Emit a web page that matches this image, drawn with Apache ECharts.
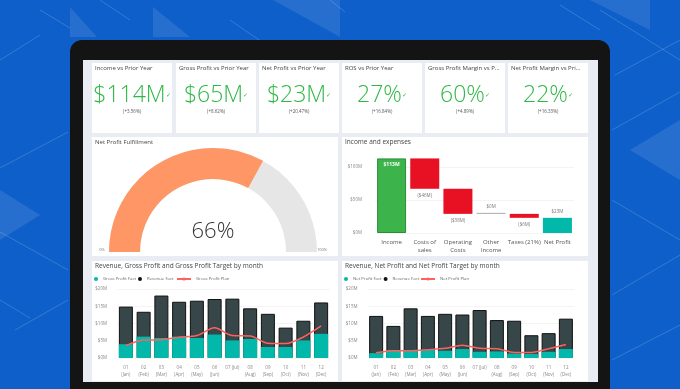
<!DOCTYPE html>
<html><head><meta charset="utf-8">
<script src="https://cdn.jsdelivr.net/npm/echarts@6/dist/echarts.min.js"></script>
<style>html,body{margin:0;padding:0;background:#0e5fc9}#c{width:680px;height:389px}</style>
</head><body><div id="c"></div><script>
// ---------- DATA ----------
const kpiTitles = ['Income vs Prior Year','Gross Profit vs Prior Year','Net Profit vs Prior Year','ROS vs Prior Year','Gross Profit Margin vs P...','Net Profit Margin vs Pri...'];
const kpiValues = ['$114M','$65M','$23M','27%','60%','22%'];
const kpiChanges = ['(+3.56%)','(+8.62%)','(+20.47%)','(+16.84%)','(+4.89%)','(+16.33%)'];

const gaugeValue = 66;

const wfCategories = ['Income','Costs of\nsales','Operating\nCosts','Other\nIncome','Taxes (21%)','Net Profit'];
const wfValues = [113,-46,-38,0,-6,23];
const wfTypes = ['total','delta','delta','delta','delta','total'];

const months = ['01\n(Jan)','02\n(Feb)','03\n(Mar)','04\n(Apr)','05\n(May)','06\n(Jun)','07 (Jul)','08\n(Aug)','09\n(Sep)','10\n(Oct)','11\n(Nov)','12\n(Dec)'];
const revenueGP = [14.9,13.4,18.1,16.3,16.6,17.1,17.2,14.4,12.8,8.8,10.8,16.1];
const grossProfitFact = [4.0,6.2,5.8,6.2,5.8,6.8,5.1,5.5,3.2,3.2,5.1,7.0];
const grossProfitPlan = [3.6,5.2,5.3,6.0,6.5,8.8,6.5,6.4,4.3,4.2,6.1,9.3];
const revenueNP = [12.2,9.3,14.4,12.2,12.8,12.6,13.9,11.0,10.8,6.6,7.2,11.4];
const netProfitFact = [1.4,2.3,2.1,2.3,2.1,2.6,1.8,1.9,1.3,1.2,1.8,2.6];
const netProfitPlan = [1.5,2.1,2.1,2.4,2.8,3.7,2.8,2.7,1.6,1.6,2.7,3.9];
const yTicks = [0,5,10,15,20];

// ---------- STYLE ----------
const FONT = "'Open Sans','Noto Sans',sans-serif";
const TEAL = '#01b8aa', DARK = '#374649', RED = '#fd625e';
const chart = echarts.init(document.getElementById('c'), null, {renderer:'canvas'});

// waterfall derived
const wfBase = [], wfHeight = [];
let run = 0;
wfValues.forEach((v,i)=>{
  if (wfTypes[i]==='total'){ wfBase.push(0); wfHeight.push(v); run = v; }
  else { const n = run + v; wfBase.push(Math.min(run,n)); wfHeight.push(Math.abs(v)); run = n; }
});
const fmtM = v => v < 0 ? '($' + Math.abs(v) + 'M)' : '$' + v + 'M';

// ---------- GRAPHICS (background, frame, cards, texts) ----------
const g = [];
const decoLines = [[40,10,70,28],[0,60,40,35],[100,0,130,20],[230,20,262,42],[330,0,345,12],[560,5,600,30],
  [600,10,680,60],[615,75,680,40],[612,130,680,92],[612,200,680,240],[612,295,680,255],[612,360,680,325],
  [0,168,68,132],[0,232,68,270],[15,330,68,300],[0,300,30,318]];
decoLines.forEach(l=>g.push({type:'line',z:-5,shape:{x1:l[0],y1:l[1],x2:l[2],y2:l[3]},style:{stroke:'rgba(255,255,255,0.22)',lineWidth:0.8}}));
const decoPolys = [[[70,7],[97,37],[70,37]],[[153,7],[190,37],[153,37]],[[273,0],[340,0],[340,37]],[[590,0],[650,0],[650,30]],[[0,190],[40,215],[0,240]],[[630,150],[680,120],[680,180]]];
decoPolys.forEach(p=>g.push({type:'polygon',z:-5,shape:{points:p},style:{fill:'rgba(255,255,255,0.10)'}}));

g.push({type:'rect',z:-4,shape:{x:70,y:40,width:540,height:360,r:[12,12,0,0]},style:{fill:'#141414'}});
g.push({type:'rect',z:-3,shape:{x:83,y:60,width:515,height:322},style:{fill:'#e9edf3'}});
const kpiX = [92,176,259,342,425,508];
kpiX.forEach((x,i)=>{
  g.push({type:'rect',z:-2,shape:{x:x,y:63,width:80,height:70},style:{fill:'#fff'}});
  g.push({type:'text',z:10,x:x+3,y:68,style:{text:kpiTitles[i],font:'6px '+FONT,fill:'#444',verticalAlign:'middle'}});
  g.push({type:'text',z:10,x:x+40,y:95,style:{text:'{v|'+kpiValues[i]+'}{c|✓}',align:'center',verticalAlign:'middle',
    rich:{v:{fontSize:23,fontFamily:FONT,fontWeight:300,fill:'#2fb845',color:'#2fb845'},c:{fontSize:6,fontFamily:FONT,color:'#2fb845',fill:'#2fb845'}}}});
  g.push({type:'text',z:10,x:x+40,y:112,style:{text:kpiChanges[i],font:'4.5px '+FONT,fill:'#555',align:'center',verticalAlign:'middle'}});
});
[[92,137,246,119],[342,137,246,119],[92,261,246,120],[342,261,246,120]].forEach(r=>g.push({type:'rect',z:-2,shape:{x:r[0],y:r[1],width:r[2],height:r[3]},style:{fill:'#fff'}}));
g.push({type:'text',z:10,x:95,y:142,style:{text:'Net Profit Fulfillment',font:'6px '+FONT,fill:'#444',verticalAlign:'middle'}});
g.push({type:'text',z:10,x:345,y:142,style:{text:'Income and expenses',font:'6.5px '+FONT,fill:'#444',verticalAlign:'middle'}});
g.push({type:'text',z:10,x:95,y:266,style:{text:'Revenue, Gross Profit and Gross Profit Target by month',font:'6.5px '+FONT,fill:'#444',verticalAlign:'middle'}});
g.push({type:'text',z:10,x:345,y:266,style:{text:'Revenue, Net Profit and Net Profit Target by month',font:'6.5px '+FONT,fill:'#444',verticalAlign:'middle'}});
g.push({type:'text',z:10,x:102,y:250,style:{text:'0%',font:'4px '+FONT,fill:'#777',align:'center',verticalAlign:'middle'}});
g.push({type:'text',z:10,x:322,y:250,style:{text:'100%',font:'4px '+FONT,fill:'#777',align:'center',verticalAlign:'middle'}});

const axisLbl = {fontSize:4.5,color:'#888',fontFamily:FONT};
const monthAxis = (gi)=>({type:'category',gridIndex:gi,data:months,axisLine:{show:false},axisTick:{show:false},
  axisLabel:{...axisLbl,margin:6,lineHeight:7,interval:0}});
const moneyAxis = (gi)=>({type:'value',gridIndex:gi,min:yTicks[0],max:yTicks[yTicks.length-1],interval:5,
  axisLabel:{...axisLbl,margin:10,formatter:v=>'$'+v+'M'},splitLine:{lineStyle:{color:'#ececec',width:0.6}}});

const legendBase = {orient:'horizontal',itemGap:2,textStyle:{fontSize:4.3,color:'#666',fontFamily:FONT},padding:0};
const noBorder = {borderWidth:0};

const option = {
  backgroundColor:'#0e5fc9',
  animation:false,
  graphic:{elements:g},
  legend:[
    {...legendBase,left:94,top:277,itemWidth:4,itemHeight:4,data:[{name:'Gross Profit Fact',icon:'circle',itemStyle:noBorder},{name:'Revenue Fact',icon:'circle',itemStyle:{borderWidth:0,color:'#111'}}]},
    {...legendBase,left:176,top:277,itemWidth:14,itemHeight:4,data:['Gross Profit Plan']},
    {...legendBase,left:344,top:277,itemWidth:4,itemHeight:4,data:[{name:'Net Profit Fact',icon:'circle',itemStyle:noBorder},{name:'Revenue Fact',icon:'circle',itemStyle:{borderWidth:0,color:'#111'}}]},
    {...legendBase,left:420,top:277,itemWidth:14,itemHeight:4,data:['Net Profit Plan']}
  ],
  grid:[
    {left:375,top:167,width:199,height:66},
    {left:117,top:289,width:213,height:69},
    {left:367.5,top:289,width:207,height:69}
  ],
  xAxis:[
    {type:'category',gridIndex:0,data:wfCategories,axisLine:{show:false},axisTick:{show:false},
      axisLabel:{fontSize:6,color:'#555',fontFamily:FONT,margin:6,lineHeight:7.5,interval:0}},
    monthAxis(1), monthAxis(2)
  ],
  yAxis:[
    {type:'value',gridIndex:0,min:0,max:100,interval:50,axisLabel:{...axisLbl,margin:13,formatter:v=>'$'+v+'M'},
      splitLine:{lineStyle:{color:'#ececec',width:0.6}}},
    moneyAxis(1), moneyAxis(2)
  ],
  series:[
    {type:'gauge',center:[213,252],radius:104,startAngle:180,endAngle:0,min:0,max:100,
      axisLine:{lineStyle:{width:31,color:[[1,'#e6e6e6']]}},
      progress:{show:true,width:31,itemStyle:{color:'#fe9666'}},
      pointer:{show:false},axisTick:{show:false},splitLine:{show:false},axisLabel:{show:false},anchor:{show:false},
      title:{show:false},
      detail:{offsetCenter:[0,-20],formatter:'{value}%',fontSize:22,fontWeight:300,color:'#333',fontFamily:FONT},
      data:[{value:gaugeValue}]},
    {type:'bar',xAxisIndex:0,yAxisIndex:0,stack:'wf',barWidth:29,clip:false,silent:true,
      itemStyle:{color:'transparent'},data:wfBase},
    {type:'bar',xAxisIndex:0,yAxisIndex:0,stack:'wf',barWidth:29,clip:false,barMinHeight:1,
      data:wfHeight.map((h,i)=>{
        let color, border, pos, lblColor='#777', weight='normal';
        if (i===0){color='#3cb44b';border='#2b8c38';pos='insideTop';lblColor='#fff';weight='bold';}
        else if (wfTypes[i]==='total'){color=TEAL;border=TEAL;pos='top';}
        else if (wfValues[i]===0){color='#aaaaaa';border='#aaaaaa';pos='top';}
        else {color='#e81123';border='#e81123';pos='bottom';}
        return {value:h,itemStyle:{color:color,borderColor:border,borderWidth:i===0?1:0},
          label:{show:true,position:pos,formatter:fmtM(wfValues[i]),fontSize:i===0?5:4.5,color:lblColor,fontWeight:weight,fontFamily:FONT,distance:4}};
      })},
    {name:'Revenue Fact',type:'bar',xAxisIndex:1,yAxisIndex:1,barWidth:14,barGap:'-100%',
      itemStyle:{color:DARK,borderColor:'#111',borderWidth:1},data:revenueGP},
    {name:'Gross Profit Fact',type:'bar',xAxisIndex:1,yAxisIndex:1,barWidth:14,barGap:'-100%',
      itemStyle:{color:TEAL},data:grossProfitFact},
    {name:'Gross Profit Plan',type:'line',xAxisIndex:1,yAxisIndex:1,smooth:0.3,symbol:'none',
      lineStyle:{color:RED,width:1.5},itemStyle:{color:RED},data:grossProfitPlan},
    {name:'Revenue Fact',type:'bar',xAxisIndex:2,yAxisIndex:2,barWidth:14,barGap:'-100%',
      itemStyle:{color:DARK,borderColor:'#111',borderWidth:1},data:revenueNP},
    {name:'Net Profit Fact',type:'bar',xAxisIndex:2,yAxisIndex:2,barWidth:14,barGap:'-100%',
      itemStyle:{color:TEAL},data:netProfitFact},
    {name:'Net Profit Plan',type:'line',xAxisIndex:2,yAxisIndex:2,smooth:0.3,symbol:'none',
      lineStyle:{color:RED,width:1.5},itemStyle:{color:RED},data:netProfitPlan}
  ]
};
chart.setOption(option);
</script></body></html>
